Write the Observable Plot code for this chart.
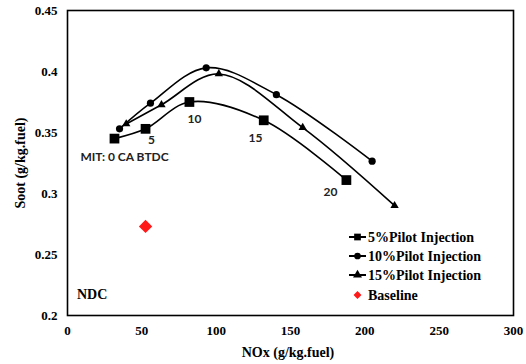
<!DOCTYPE html>
<html><head><meta charset="utf-8">
<script src="https://cdn.jsdelivr.net/npm/d3@7"></script>
<script src="https://cdn.jsdelivr.net/npm/@observablehq/plot@0.6"></script>
<style>body{margin:0;background:#fff}</style>
</head><body><div id="chart"></div>
<script>
const nox5 = [31.6, 52.5, 82, 132, 187.6];
const soot5 = [0.345, 0.353, 0.375, 0.36, 0.311];
const nox10 = [35, 55.8, 93.3, 140.5, 204.9];
const soot10 = [0.353, 0.374, 0.403, 0.381, 0.3265];
const nox15 = [39.5, 63.2, 101.8, 158.2, 220];
const soot15 = [0.357, 0.3727, 0.398, 0.354, 0.29];
const noxBase = [52.5];
const sootBase = [0.273];
const mitLabels = ["5", "10", "15", "20"];
const mitX = [56.5, 85.4, 126.4, 176.9];
const mitY = [0.344, 0.3607, 0.345, 0.3008];
const notes = ["MIT: 0 CA BTDC"];
const notesX = [8.7];
const notesY = [0.3295];
const xTicks = [0, 50, 100, 150, 200, 250, 300];
const yTicks = [0.2, 0.25, 0.3, 0.35, 0.4, 0.45];
const seriesNames = ["5%Pilot Injection", "10%Pilot Injection", "15%Pilot Injection", "Baseline"];

const mk = (xs, ys) => xs.map((x, i) => ({x, y: ys[i]}));
const s5 = mk(nox5, soot5), s10 = mk(nox10, soot10), s15 = mk(nox15, soot15), base = mk(noxBase, sootBase);
const labs = mitLabels.map((t, i) => ({t, x: mitX[i], y: mitY[i]}));
const nts = notes.map((t, i) => ({t, x: notesX[i], y: notesY[i]}));

const serif = "'Liberation Serif', 'Times New Roman', serif";
const sans = "Lato, 'Open Sans', sans-serif";

const plot = Plot.plot({
  width: 526, height: 364,
  marginLeft: 67, marginRight: 13, marginTop: 10, marginBottom: 49,
  style: {fontFamily: serif, fontSize: "13px", fontWeight: "bold", color: "#000", background: "#fff"},
  x: {domain: [0, 300], ticks: xTicks, tickSize: 0, tickPadding: 10, label: null},
  y: {domain: [0.2, 0.45], ticks: yTicks, tickSize: 0, tickPadding: 10, tickFormat: d => String(+d.toFixed(2)), label: null},
  marks: [
    Plot.frame({stroke: "#000", strokeWidth: 1.6}),
    Plot.line(s5, {x: "x", y: "y", curve: "catmull-rom", stroke: "#000", strokeWidth: 1.6}),
    Plot.line(s10, {x: "x", y: "y", curve: "catmull-rom", stroke: "#000", strokeWidth: 1.6}),
    Plot.line(s15, {x: "x", y: "y", curve: "catmull-rom", stroke: "#000", strokeWidth: 1.6}),
    Plot.dot(s5, {x: "x", y: "y", symbol: "square", r: 5.5, fill: "#000"}),
    Plot.dot(s10, {x: "x", y: "y", symbol: "circle", r: 3.6, fill: "#000"}),
    Plot.dot(s15, {x: "x", y: "y", symbol: "triangle", r: 3.1, fill: "#000"}),
    Plot.dot(base, {x: "x", y: "y", symbol: "diamond2", r: 6, fill: "#ff1a1a"}),
    Plot.text(labs, {x: "x", y: "y", text: "t", fontFamily: sans, fontSize: 12, fontWeight: "bold", fill: "#222"}),
    Plot.text(nts, {x: "x", y: "y", text: "t", textAnchor: "start", fontFamily: sans, fontSize: 12, fontWeight: "bold", fill: "#222"})
  ]
});
document.getElementById("chart").append(plot);

// Axis titles, legend and NDC annotation
const svg = d3.select(plot);
const g = svg.append("g").attr("font-family", serif).attr("font-weight", "bold").attr("font-size", 14).attr("text-anchor", "start").attr("fill", "#000");
g.append("text").attr("x", 288).attr("y", 352).attr("dy", "0.35em").attr("text-anchor", "middle").text("NOx (g/kg.fuel)");
g.append("text").attr("transform", "translate(20,163) rotate(-90)").attr("dy", "0.35em").attr("text-anchor", "middle").text("Soot (g/kg.fuel)");
const rowsY = [237, 256, 275, 295];
const syms = [d3.symbolSquare, d3.symbolCircle, d3.symbolTriangle];
rowsY.forEach((yy, i) => {
  if (i < 3) {
    g.append("line").attr("x1", 349).attr("x2", 366).attr("y1", yy).attr("y2", yy).attr("stroke", "#000").attr("stroke-width", 2);
    g.append("path").attr("d", d3.symbol(syms[i], i === 0 ? 45 : 35)()).attr("transform", `translate(357.5,${yy})`).attr("fill", "#000");
  } else {
    g.append("path").attr("d", d3.symbol(d3.symbolDiamond2, 40)()).attr("transform", `translate(357.5,${yy})`).attr("fill", "#ff1a1a");
  }
  g.append("text").attr("x", 368).attr("y", yy).attr("dy", "0.35em").text(seriesNames[i]);
});
g.append("text").attr("x", 77).attr("y", 294).attr("dy", "0.35em").attr("font-size", 14).text("NDC");
</script>
</body></html>
